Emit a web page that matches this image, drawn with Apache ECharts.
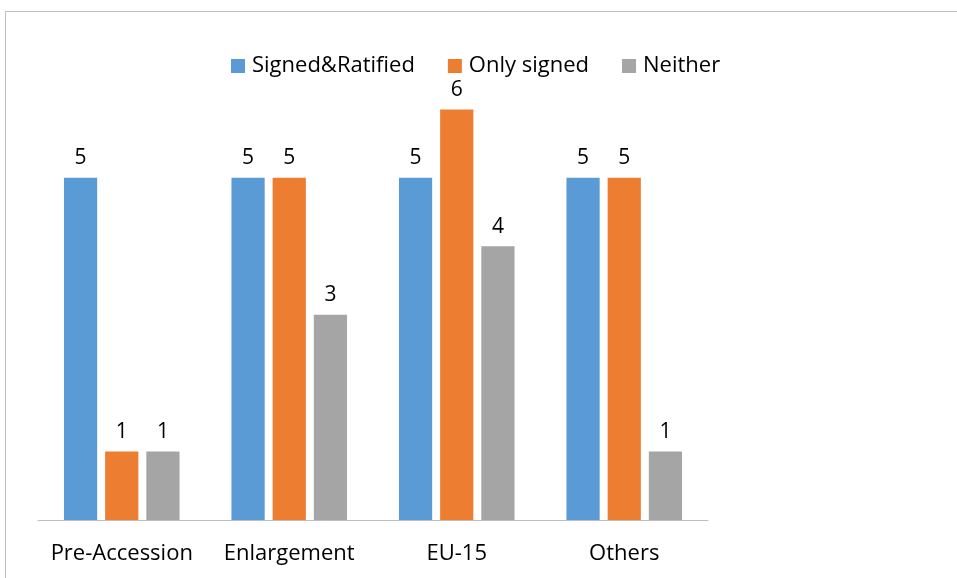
<!DOCTYPE html>
<html><head><meta charset="utf-8">
<script src="https://cdn.jsdelivr.net/npm/echarts@6/dist/echarts.min.js"></script>
<style>html,body{margin:0;padding:0;background:#fff}#c{width:957px;height:578px}</style>
</head><body><div id="c"></div>
<script>
const categories = ['Pre-Accession', 'Enlargement', 'EU-15', 'Others'];
const signedRatified = [5, 5, 5, 5];
const onlySigned = [1, 5, 6, 5];
const neither = [1, 3, 4, 1];
const seriesNames = ['Signed&Ratified', 'Only signed', 'Neither'];
const colors = ['#5B9BD5', '#ED7D31', '#A5A5A5'];
const FONT = '"Open Sans", sans-serif';

const chart = echarts.init(document.getElementById('c'));
const lbl = {show: true, position: 'top', distance: 9, color: '#000', fontSize: 21, fontFamily: FONT};
chart.setOption({
  animation: false,
  color: colors,
  graphic: [{type: 'rect', shape: {x: 5.5, y: 11.5, width: 1000, height: 1000},
    style: {fill: 'none', stroke: '#bfbfbf', lineWidth: 1}, silent: true}],
  legend: {
    top: 50, left: 226, itemWidth: 14, itemHeight: 14, itemGap: 33,
    icon: 'rect',
    textStyle: {fontSize: 22, fontFamily: FONT, color: '#000', padding: [0, 0, 0, 2]},
    data: seriesNames
  },
  grid: {left: 38, right: 249, top: 41, bottom: 58, containLabel: false},
  xAxis: {
    type: 'category', data: categories,
    axisLine: {lineStyle: {color: '#bfbfbf', width: 1}},
    axisTick: {show: false},
    axisLabel: {interval: 0, fontSize: 22, fontFamily: FONT, color: '#000', margin: 23}
  },
  yAxis: {type: 'value', min: 0, max: 7, interval: 1, show: false, splitLine: {show: false}},
  series: [
    {name: seriesNames[0], type: 'bar', data: signedRatified, barGap: '24%', barCategoryGap: '31%', label: lbl},
    {name: seriesNames[1], type: 'bar', data: onlySigned, label: lbl},
    {name: seriesNames[2], type: 'bar', data: neither, label: lbl}
  ]
});
</script></body></html>
